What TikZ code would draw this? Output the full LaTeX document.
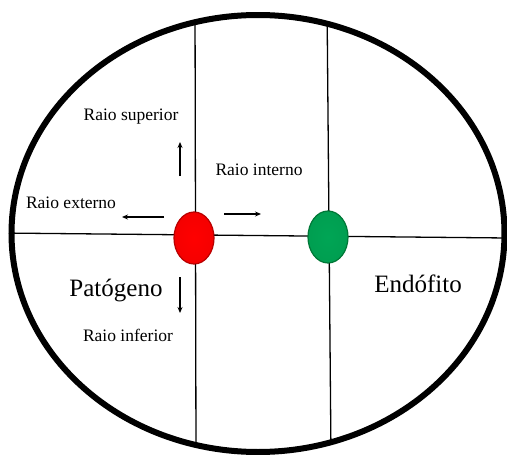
\documentclass[tikz,border=0pt]{standalone}
\usepackage{fontspec}
\setmainfont{Liberation Serif}
\usetikzlibrary{arrows.meta,shapes.geometric}
\definecolor{dotred}{RGB}{255,0,0}
\definecolor{dotredd}{RGB}{185,0,0}
\definecolor{dotgreen}{RGB}{0,165,85}
\definecolor{dotgreend}{RGB}{0,120,55}
\tikzset{
  thinline/.style={line width=1.3pt, black},
  rimline/.style={line width=6pt, black},
  dir/.style={line width=1.1pt, -{Stealth[length=6pt,width=5pt]}},
  smalltxt/.style={font=\fontsize{17.5}{20}\selectfont, inner sep=0pt},
  bigtxt/.style={font=\fontsize{25}{28}\selectfont, inner sep=0pt},
  dot/.style={ellipse, minimum width=40pt, minimum height=52pt, inner sep=0pt, line width=1.2pt}
}
\begin{document}
\begin{tikzpicture}[x=1pt,y=-1pt]
\useasboundingbox (0,0) rectangle (507,455);
\fill[white] (0,0) rectangle (507,455);
% grid coordinates
\coordinate (t1) at (195,0);
\coordinate (b1) at (196,455);
\coordinate (t2) at (327,0);
\coordinate (b2) at (331,455);
\coordinate (l0) at (0,233);
\coordinate (r0) at (507,238);
\begin{scope}
  \clip (258,233.5) ellipse [x radius=246.5pt, y radius=218.5pt];
  \draw[thinline] (t1) -- (b1);
  \draw[thinline] (t2) -- (b2);
  \draw[thinline] (l0) -- (r0);
\end{scope}
\draw[rimline] (258,233.5) ellipse [x radius=246.5pt, y radius=218.5pt];
% dots
\node[dot, draw=dotredd, inner color=dotred, outer color=dotred!85!dotredd] (pat) at (194,238) {};
\node[dot, draw=dotgreend, inner color=dotgreen, outer color=dotgreen!85!dotgreend] (endo) at (328,237) {};
% arrow coordinates
\coordinate (us) at (180,176);
\coordinate (ue) at (180,142);
\coordinate (ds) at (180,277);
\coordinate (de) at (180,313);
\coordinate (ls) at (164,217);
\coordinate (le) at (122,217);
\coordinate (rs) at (224,214);
\coordinate (re) at (261,214);
\draw[dir] (us) -- (ue);
\draw[dir] (ds) -- (de);
\draw[dir] (ls) -- (le);
\draw[dir] (rs) -- (re);
% labels
\node[smalltxt] (sup) at (131,117) {Raio superior};
\node[smalltxt] (int) at (259,170) {Raio interno};
\node[smalltxt] (ext) at (71,203) {Raio externo};
\node[smalltxt] (inf) at (128,335) {Raio inferior};
\node[bigtxt] (ptxt) at (116,291) {Patógeno};
\node[bigtxt] (etxt) at (418,284) {Endófito};
\end{tikzpicture}
\end{document}
